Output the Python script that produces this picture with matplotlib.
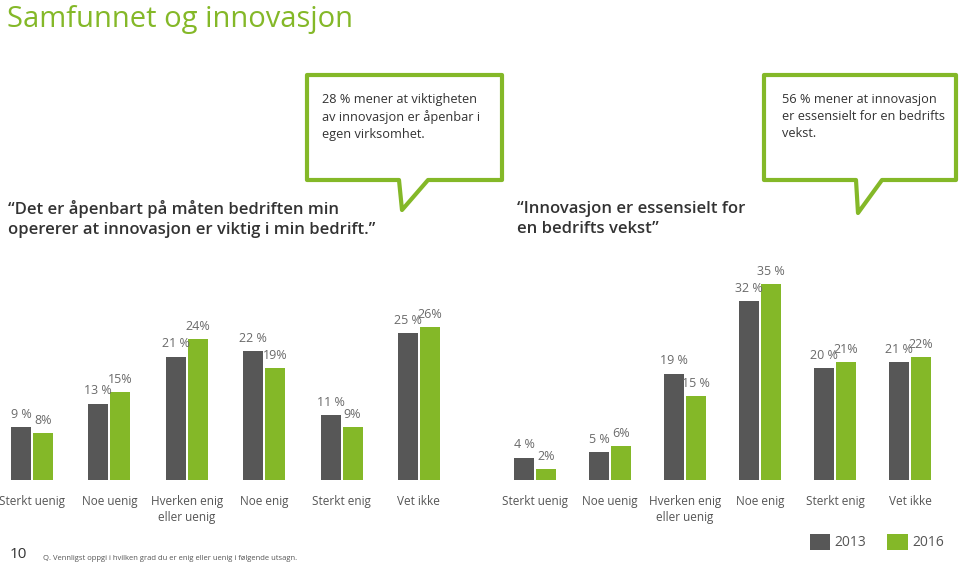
import matplotlib
matplotlib.use('Agg')
import matplotlib.pyplot as plt
from matplotlib.patches import Polygon
import numpy as np

categories = ["Sterkt uenig", "Noe uenig", "Hverken enig\neller uenig", "Noe enig", "Sterkt enig", "Vet ikke"]
left_2013 = [9, 13, 21, 22, 11, 25]
left_2016 = [8, 15, 24, 19, 9, 26]
right_2013 = [4, 5, 19, 32, 20, 21]
right_2016 = [2, 6, 15, 35, 21, 22]
left_labels_2013 = ["9 %", "13 %", "21 %", "22 %", "11 %", "25 %"]
left_labels_2016 = ["8%", "15%", "24%", "19%", "9%", "26%"]
right_labels_2013 = ["4 %", "5 %", "19 %", "32 %", "20 %", "21 %"]
right_labels_2016 = ["2%", "6%", "15 %", "35 %", "21%", "22%"]
series_names = ["2013", "2016"]
title = "Samfunnet og innovasjon"
quote_left = "\u201cDet er åpenbart på måten bedriften min\nopererer at innovasjon er viktig i min bedrift.\u201d"
quote_right = "\u201cInnovasjon er essensielt for\nen bedrifts vekst\u201d"
callout_left = "28 % mener at viktigheten\nav innovasjon er åpenbar i\negen virksomhet."
callout_right = "56 % mener at innovasjon\ner essensielt for en bedrifts\nvekst."
footnote = "Q. Vennligst oppgi i hvilken grad du er enig eller uenig i følgende utsagn."
page_number = "10"

DARK = "#575757"
GREEN = "#84b828"
LABEL = "#6a6a6a"
TEXT = "#333333"

plt.rcParams['font.family'] = ['Open Sans', 'DejaVu Sans']

W, H = 960, 564
fig = plt.figure(figsize=(9.6, 5.64), dpi=100)


def fx(x):
    return x / W


def fy(y):
    return 1 - y / H


def draw_group(rect, xlim, ylim, v13, v16, l13, l16, width, off):
    ax = fig.add_axes(rect)
    x = np.arange(len(categories))
    b1 = ax.bar(x - off, v13, width=width, color=DARK, label=series_names[0])
    b2 = ax.bar(x + off, v16, width=width, color=GREEN, label=series_names[1])
    for xi, v, t in zip(x - off, v13, l13):
        ax.annotate(t, (xi, v), xytext=(0, 4.5), textcoords='offset points',
                    ha='center', va='bottom', fontsize=9, color=LABEL)
    for xi, v, t in zip(x + off, v16, l16):
        ax.annotate(t, (xi, v), xytext=(0, 4.5), textcoords='offset points',
                    ha='center', va='bottom', fontsize=9, color=LABEL)
    ax.set_xlim(*xlim)
    ax.set_ylim(*ylim)
    ax.set_xticks(x, categories, fontsize=8.5, color="#555555", linespacing=1.3)
    ax.tick_params(axis='x', length=0, pad=10.5)
    ax.set_yticks([])
    for s in ax.spines.values():
        s.set_visible(False)
    ax.patch.set_alpha(0)
    return b1, b2


top_px = 250
h_frac = (480 - top_px) / H
b1, b2 = draw_group([0, fy(480), 0.5, h_frac], (-0.413, 5.789), (0, (480 - top_px) / 5.87),
                    left_2013, left_2016, left_labels_2013, left_labels_2016, 20 / 77.4, 11 / 77.4)
draw_group([0.5, fy(480), 0.5, h_frac], (-0.733, 5.667), (0, (480 - top_px) / 5.6),
           right_2013, right_2016, right_labels_2013, right_labels_2016, 20 / 75, 11 / 75)

# Title
fig.text(fx(7), fy(19), title, fontsize=21, color=GREEN, ha='left', va='center')

# Quotes
fig.text(fx(8), fy(219), quote_left, fontsize=12, color=TEXT, fontweight='semibold',
         ha='left', va='center', linespacing=1.4)
fig.text(fx(517), fy(219), quote_right, fontsize=12, color=TEXT, fontweight='semibold',
         ha='left', va='center', linespacing=1.4)


# Callouts
def callout(x0, y0, x1, y1, tl, tip, tr, text, tx):
    pts = [(x0, y0), (x1, y0), (x1, y1), (tr, y1), tip, (tl, y1), (x0, y1)]
    poly = Polygon([(fx(a), fy(b)) for a, b in pts], closed=True, transform=fig.transFigure,
                   facecolor='white', edgecolor=GREEN, linewidth=3, joinstyle='round')
    fig.add_artist(poly)
    fig.text(fx(tx), fy(117), text, fontsize=9.2, color=TEXT, ha='left', va='center',
             linespacing=1.4)


callout(307, 75, 502, 180, 399, (402, 210), 428, callout_left, 322)
callout(764, 75, 956, 180, 856, (858, 213), 882, callout_right, 782)

# Legend
fig.legend([b1, b2], series_names, loc='center', bbox_to_anchor=(fx(877), fy(542)),
           ncol=2, frameon=False, fontsize=10, handlelength=1.45, handleheight=1.45,
           handletextpad=0.35, columnspacing=1.5, labelcolor="#555555")

# Footer
fig.text(fx(10), fy(555), page_number, fontsize=11, color=TEXT, ha='left', va='center')
fig.text(fx(43), fy(558), footnote, fontsize=5.5, color="#555555", ha='left', va='center')

fig.savefig('out.png', dpi=100)
